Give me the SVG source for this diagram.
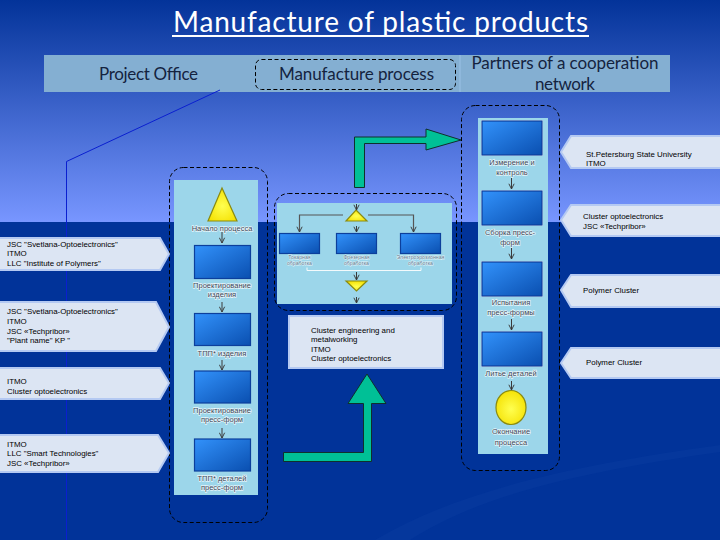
<svg xmlns="http://www.w3.org/2000/svg" width="720" height="540" viewBox="0 0 720 540">
<defs>
<linearGradient id="sky" x1="0" y1="0" x2="0" y2="1"><stop offset="0" stop-color="#033399"/><stop offset="1" stop-color="#7896ff"/></linearGradient>
<linearGradient id="box" x1="0" y1="0" x2="1" y2="1"><stop offset="0" stop-color="#3292fb"/><stop offset="1" stop-color="#0a4fb0"/></linearGradient>
<radialGradient id="yel" cx="0.5" cy="0.55" r="0.6"><stop offset="0" stop-color="#ffff50"/><stop offset="1" stop-color="#f4e000"/></radialGradient>
<marker id="a" viewBox="0 0 8 8" refX="7" refY="4" markerWidth="7" markerHeight="7" orient="auto" markerUnits="userSpaceOnUse"><path d="M1 1L7 4L1 7" fill="none" stroke="#3a3a3a" stroke-width="1.1"/></marker>
</defs>
<style>
text{font-family:"Liberation Sans",Arial,sans-serif}
.ti{font-family:"Lato","Open Sans",sans-serif;font-size:28px;fill:#fff;text-anchor:middle}
.hd{font-family:"Lato","Open Sans",sans-serif;font-size:17px;fill:#14233f;text-anchor:middle}
.call{fill:#dce5f3;stroke:#b4c9f2;stroke-width:2}
.ct{font-size:7.9px;fill:#000}
.dash{fill:none;stroke:#000;stroke-width:1;stroke-dasharray:4 2.5}
.panel{fill:#9cd6ea}
.rect{fill:url(#box);stroke:#0c3f9c;stroke-width:1.2}
.lb{font-size:7.5px;fill:#3a4658;text-anchor:middle;stroke:#fff;stroke-width:1.4px;stroke-opacity:.75;paint-order:stroke}
.sm{font-size:5.2px;fill:#5d7a90;text-anchor:middle;stroke:#fff;stroke-width:1px;stroke-opacity:.7;paint-order:stroke}
.tri{fill:url(#yel);stroke:#8a8a10;stroke-width:1.2}
.green{fill:#00c096;stroke:#10302c;stroke-width:1}
.ar{fill:none;stroke:#3a3a3a;stroke-width:1;marker-end:url(#a)}
</style>

<rect width="720" height="222" fill="url(#sky)"/>
<rect y="222" width="720" height="318" fill="#013399"/>
<path d="M375 540C460 490 570 466 720 445V452C580 472 480 495 410 540Z" fill="#05379c"/>

<g id="title">
<text class="ti" x="380.500" y="32" textLength="415" lengthAdjust="spacing">Manufacture of plastic products</text>
<rect x="172" y="35" width="417" height="2" fill="#fff"/>
</g>

<g id="header">
<rect x="44" y="55" width="626" height="37" fill="#84afd2"/>
<rect x="459" y="55" width="2" height="37" fill="#8fb8dc"/>
<text class="hd" x="148.500" y="79.500" textLength="99" lengthAdjust="spacing">Project Office</text>
<rect class="dash" x="255.500" y="59.500" width="200" height="30" rx="6"/>
<text class="hd" x="356.500" y="79.500" textLength="155" lengthAdjust="spacing">Manufacture process</text>
<text class="hd" x="565" y="69" textLength="187" lengthAdjust="spacing">Partners of a cooperation</text>
<text class="hd" x="565" y="90" textLength="60" lengthAdjust="spacing">network</text>
</g>

<g id="office-line"><path d="M220 90L66.500 161.500V540" fill="none" stroke="#0a1fd0" stroke-width="1"/></g>

<g id="left-process">
<rect class="panel" x="174" y="180" width="84" height="315"/>
<rect class="dash" x="169.500" y="167.500" width="98" height="355" rx="14"/>
<path class="tri" d="M222 188L237 221H208Z"/>
<text class="lb" x="222" y="231">Начало процесса</text>
<rect class="rect" x="194.500" y="245.500" width="56" height="33"/>
<text class="lb" x="222" y="288">Проектирование</text>
<text class="lb" x="222" y="297">изделия</text>
<rect class="rect" x="194.500" y="313.500" width="56" height="32"/>
<text class="lb" x="222" y="356">ТПП* изделия</text>
<rect class="rect" x="194.500" y="371" width="56" height="32"/>
<text class="lb" x="222" y="413">Проектирование</text>
<text class="lb" x="222" y="422">пресс-форм</text>
<rect class="rect" x="194.500" y="439" width="56" height="32"/>
<text class="lb" x="222" y="481">ТПП* деталей</text>
<text class="lb" x="222" y="490">пресс-форм</text>
</g>

<g id="center-process">
<rect class="panel" x="277" y="203" width="175" height="101"/>
<rect class="dash" x="274.500" y="193.500" width="182" height="117" rx="14"/>
<path class="tri" d="M356 210L367 221H346Z"/>
<rect class="rect" x="279.500" y="233.500" width="40" height="20"/>
<rect class="rect" x="336.500" y="233.500" width="40" height="20"/>
<rect class="rect" x="400.500" y="233.500" width="40" height="20"/>
<text class="sm" x="299.500" y="259">Токарная</text><text class="sm" x="299.500" y="265">обработка</text>
<text class="sm" x="356.500" y="259">Фрезерная</text><text class="sm" x="356.500" y="265">обработка</text>
<text class="sm" x="420.500" y="259">Электроэрозионная</text><text class="sm" x="420.500" y="265">обработка</text>
<path d="M307 267.500V270.500H421V267.500" fill="none" stroke="#f4fafc" stroke-width="1"/>
<path class="tri" d="M346 281H367L356.500 291Z"/>
</g>

<g id="right-process">
<rect class="panel" x="478" y="118" width="70" height="336"/>
<rect class="dash" x="461.500" y="105.500" width="98" height="365" rx="14"/>
<rect x="481" y="120" width="62" height="36" fill="#eaf6fb"/><rect class="rect" x="482" y="121" width="60" height="34"/>
<text class="lb" x="512" y="165">Измерение и</text><text class="lb" x="512" y="175">контроль</text>
<rect x="481" y="190" width="62" height="36" fill="#eaf6fb"/><rect class="rect" x="482" y="191" width="60" height="34"/>
<text class="lb" x="510" y="235">Сборка пресс-</text><text class="lb" x="510" y="245">форм</text>
<rect x="481" y="261" width="62" height="36" fill="#eaf6fb"/><rect class="rect" x="482" y="262" width="60" height="34"/>
<text class="lb" x="511" y="305">Испытания</text><text class="lb" x="511" y="315">пресс-формы</text>
<rect x="481" y="331" width="62" height="36" fill="#eaf6fb"/><rect class="rect" x="482" y="332" width="60" height="34"/>
<text class="lb" x="511" y="376">Литье деталей</text>
<ellipse class="tri" cx="511" cy="407.500" rx="15" ry="17"/>
<text class="lb" x="511" y="434">Окончание</text><text class="lb" x="511" y="445">процесса</text>
</g>

<g id="connectors">
<path class="ar" d="M222 232V243"/>
<path class="ar" d="M222 302V312"/>
<path class="ar" d="M222 360V370"/>
<path class="ar" d="M222 428V438"/>
<path class="ar" d="M356.500 204V210"/>
<path class="ar" d="M356.500 226V232"/>
<path class="ar" d="M356.500 272V280"/>
<path class="ar" d="M356.500 297V303"/>
<path d="M343 215H299.500V232" fill="none" stroke="#555" stroke-width="1.200" marker-end="url(#a)"/>
<path d="M368 215H413.500V232" fill="none" stroke="#555" stroke-width="1.200" marker-end="url(#a)"/>
<path class="ar" d="M511.500 178V189"/>
<path class="ar" d="M511.500 248V259"/>
<path class="ar" d="M511.500 319V330"/>
<path class="ar" d="M511.500 381V390"/>
<path class="green" d="M354.500 187.500H364.500V143.500H426V150L461 140L426 129V137H354.500Z"/>
<path class="green" d="M283.500 452.500H363.500V403.500H348L367 374L386 403.500H371.500V461.500H283.500Z"/>
</g>

<g id="partner-left-1"><path class="call" d="M-2 238H160L169 254L160 270H-2Z"/>
<text class="ct" x="7" y="247">JSC "Svetlana-Optoelectronics"</text><text class="ct" x="7" y="256">ITMO</text><text class="ct" x="7" y="266">LLC "Institute of Polymers"</text></g>
<g id="partner-left-2"><path class="call" d="M-2 302H156L169 327L156 351H-2Z"/>
<text class="ct" x="7" y="314">JSC "Svetlana-Optoelectronics"</text><text class="ct" x="7" y="324">ITMO</text><text class="ct" x="7" y="334">JSC «Techpribor»</text><text class="ct" x="7" y="343">"Plant name" KP "</text></g>
<g id="partner-left-3"><path class="call" d="M-2 368H160L169 383L160 399H-2Z"/>
<text class="ct" x="7" y="384">ITMO</text><text class="ct" x="7" y="394">Cluster optoelectronics</text></g>
<g id="partner-left-4"><path class="call" d="M-2 435H158L169 453L158 472H-2Z"/>
<text class="ct" x="7" y="447">ITMO</text><text class="ct" x="7" y="456">LLC "Smart Technologies"</text><text class="ct" x="7" y="466">JSC «Techpribor»</text></g>

<g id="partner-center"><rect class="call" x="289" y="316" width="154" height="52"/>
<text class="ct" x="311" y="333">Cluster engineering and</text><text class="ct" x="311" y="342">metalworking</text><text class="ct" x="311" y="352">ITMO</text><text class="ct" x="311" y="361">Cluster optoelectronics</text></g>

<g id="partner-right-1"><path class="call" d="M722 136H571L561 152L571 168H722Z"/>
<text class="ct" x="586" y="157">St.Petersburg State University</text><text class="ct" x="586" y="166">ITMO</text></g>
<g id="partner-right-2"><path class="call" d="M722 205H571L561 220L571 236H722Z"/>
<text class="ct" x="583" y="219">Cluster optoelectronics</text><text class="ct" x="583" y="229">JSC «Techpribor»</text></g>
<g id="partner-right-3"><path class="call" d="M722 275H571L561 290L571 307H722Z"/>
<text class="ct" x="583" y="293">Polymer Cluster</text></g>
<g id="partner-right-4"><path class="call" d="M722 348H571L561 363L571 378H722Z"/>
<text class="ct" x="586" y="365">Polymer Cluster</text></g>
</svg>
